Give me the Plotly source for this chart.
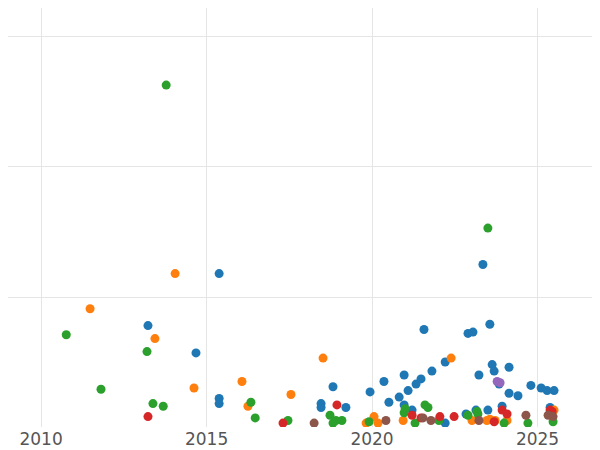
import plotly.graph_objects as go

blue_x = [2013.23, 2014.68, 2015.38, 2015.38, 2015.38, 2018.46, 2018.46, 2018.82, 2019.21, 2019.94,
          2020.36, 2020.51, 2020.82, 2020.97, 2020.97, 2021.09, 2021.33, 2021.48, 2021.57, 2021.81,
          2022.21, 2022.21, 2022.90, 2023.05, 2023.23, 2023.35, 2023.56, 2023.63, 2023.69, 2023.84,
          2023.93, 2024.14, 2024.14, 2024.41, 2024.80, 2025.11, 2025.29, 2025.50, 2025.38, 2023.14,
          2023.50, 2021.21, 2022.84]
blue_y = [78, 57, 118, 22, 18, 18, 15, 31, 15, 27,
          35, 19, 23, 40, 17, 28, 33, 37, 75, 43,
          50, 3, 72, 73, 40, 125, 79, 48, 43, 33,
          16, 46, 26, 24, 32, 30, 28, 28, 15, 13,
          13, 13, 10]

orange_x = [2011.48, 2013.44, 2014.05, 2014.62, 2016.07, 2016.25, 2017.55, 2018.52, 2020.06, 2020.18,
            2020.94, 2022.39, 2023.02, 2023.56, 2023.72, 2024.08, 2025.50, 2019.82, 2023.47]
orange_y = [91, 68, 118, 30, 35, 16, 25, 53, 8, 3,
            5, 53, 5, 6, 5, 5, 13, 3, 5]

green_x = [2010.76, 2011.81, 2013.20, 2013.38, 2013.69, 2013.78, 2016.34, 2016.47, 2017.46, 2018.73,
           2018.82, 2019.09, 2019.91, 2020.97, 2021.00, 2021.30, 2021.60, 2021.69, 2022.02, 2022.90,
           2023.17, 2023.20, 2023.50, 2023.99, 2024.71, 2025.47, 2018.91]
green_y = [71, 29, 58, 18, 16, 263, 19, 7, 5, 9,
           3, 5, 4, 11, 14, 3, 17, 15, 5, 9,
           12, 10, 153, 3, 3, 4, 5]

red_x = [2013.23, 2017.31, 2018.94, 2021.21, 2021.48, 2022.05, 2022.48, 2023.69, 2023.93, 2024.08,
         2025.38, 2025.44]
red_y = [8, 3, 17, 9, 7, 8, 8, 4, 13, 10, 13, 12]

purple_x = [2023.78, 2023.87]
purple_y = [35, 34]

brown_x = [2018.25, 2020.42, 2021.54, 2021.78, 2023.23, 2024.65, 2025.32, 2025.47]
brown_y = [3, 5, 7, 5, 5, 9, 9, 8]

series = [
    (blue_x, blue_y, "#1f77b4"),
    (orange_x, orange_y, "#ff7f0e"),
    (green_x, green_y, "#2ca02c"),
    (red_x, red_y, "#d62728"),
    (purple_x, purple_y, "#9467bd"),
    (brown_x, brown_y, "#8c564b"),
]

fig = go.Figure()
for xs, ys, col in series:
    fig.add_trace(go.Scatter(x=xs, y=ys, mode="markers",
                             marker=dict(color=col, size=9), showlegend=False))

fig.update_layout(
    template="plotly_white",
    width=600, height=450,
    margin=dict(l=0, r=0, t=0, b=31),
    font=dict(family="DejaVu Sans", size=17, color="#555"),
)
fig.update_xaxes(range=[2009.0, 2027.13], tickvals=[2010, 2015, 2020, 2025],
                 gridcolor="#e5e5e5", zeroline=False)
fig.update_yaxes(range=[0, 322.3], tickvals=[100, 200, 300], showticklabels=False,
                 gridcolor="#e5e5e5", zeroline=False)

fig.write_html("out.html")
